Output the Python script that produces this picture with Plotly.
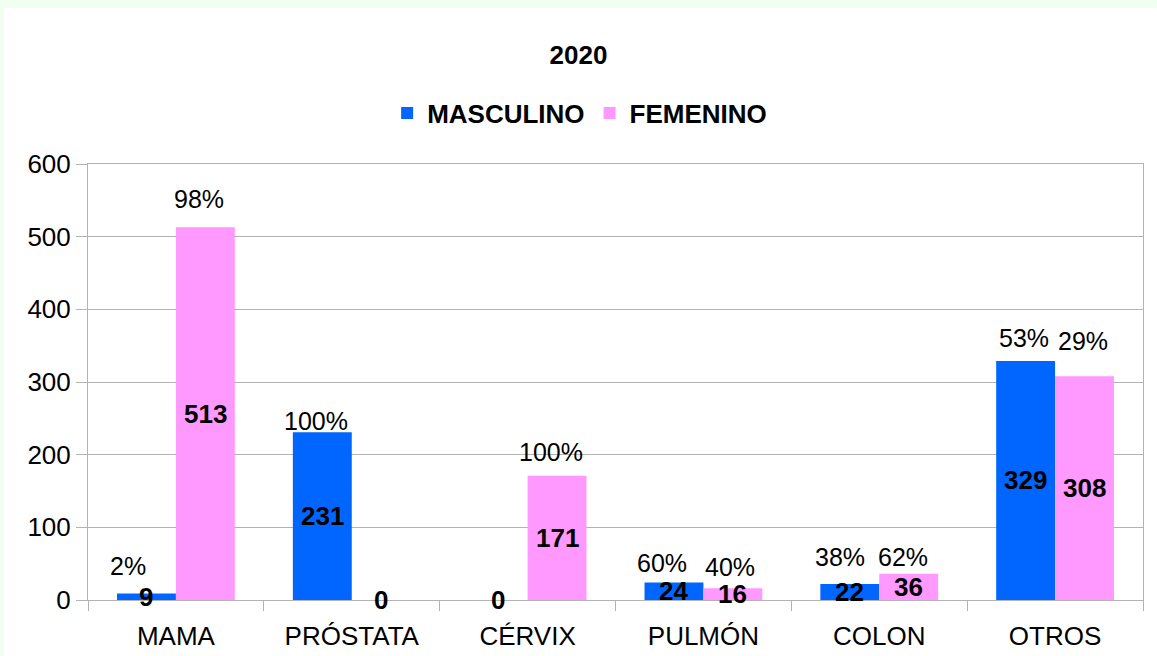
import plotly.graph_objects as go

categories = ["MAMA", "PRÓSTATA", "CÉRVIX", "PULMÓN", "COLON", "OTROS"]
masculino = [9, 231, 0, 24, 22, 329]
femenino = [513, 0, 171, 16, 36, 308]
pct_masculino = ["2%", "100%", "", "60%", "38%", "53%"]
pct_femenino = ["98%", "", "100%", "40%", "62%", "29%"]

# pixel offsets of the percentage labels relative to the bar tops
pct_yshift_m = [27, 11, 0, 20, 27, 23]
pct_yshift_f = [28, 0, 24, 21, 17, 35]
pct_xshift_m = [-18, -6, 0, -12, -10, -2]
pct_xshift_f = [-6, 0, -6, -3, -6, -2]

BLUE = "#0066ff"
PINK = "#ff99ff"
GRID = "#b3b3b3"
BG = "#f0fff0"
FONT = "Liberation Sans, Arial, sans-serif"
BARGAP = 0.33

fig = go.Figure()
fig.add_trace(go.Bar(name="<b>MASCULINO</b>", x=categories, y=masculino, marker_color=BLUE,
                     marker_line_width=0))
fig.add_trace(go.Bar(name="<b>FEMENINO</b>", x=categories, y=femenino, marker_color=PINK,
                     marker_line_width=0))

off = (1 - BARGAP) / 4
ann = []
for i, c in enumerate(categories):
    for sgn, vals, pcts, ys, xs in ((-1, masculino, pct_masculino, pct_yshift_m, pct_xshift_m),
                                    (1, femenino, pct_femenino, pct_yshift_f, pct_xshift_f)):
        v = vals[i]
        ann.append(dict(x=i + sgn * off, y=v / 2, xref="x", yref="y", text=f"<b>{v}</b>",
                        showarrow=False, font=dict(size=26, color="black", family=FONT),
                        xanchor="center", yanchor="middle"))
        if pcts[i]:
            ann.append(dict(x=i + sgn * off, y=v, xref="x", yref="y", text=pcts[i],
                            showarrow=False, font=dict(size=25, color="black", family=FONT),
                            xanchor="center", yanchor="middle", yshift=ys[i], xshift=xs[i]))

fig.update_layout(
    width=1157, height=656,
    margin=dict(l=88, r=14, t=164, b=56, autoexpand=False),
    paper_bgcolor=BG,
    plot_bgcolor="white",
    font=dict(family=FONT, color="black", size=26),
    barmode="group", bargap=BARGAP, bargroupgap=0,
    title=dict(text="<b>2020</b>", x=0.5, xref="container", xanchor="center",
               y=1 - 55 / 656, yanchor="middle", font=dict(size=26, family=FONT, color="black")),
    showlegend=True,
    legend=dict(orientation="h", x=0.466, xanchor="center", y=1.117, yanchor="middle",
                font=dict(size=26, family=FONT, color="black"), bgcolor="rgba(0,0,0,0)",
                itemwidth=30, traceorder="normal"),
    annotations=ann,
    shapes=[dict(type="rect", xref="paper", yref="paper", x0=-84 / 1055, x1=1.02,
                 y0=-0.2, y1=(600 - 8) / 436, fillcolor="white", line_width=0, layer="below")],
)
fig.update_xaxes(type="category", showgrid=False, showline=True, linecolor=GRID, linewidth=1,
                 mirror=True, ticks="outside", tickson="boundaries", ticklen=10,
                 tickcolor=GRID, ticklabelstandoff=13, automargin=False,
                 tickfont=dict(size=26, family=FONT, color="black"))
fig.update_yaxes(range=[0, 600], dtick=100, showgrid=True, gridcolor=GRID, gridwidth=1,
                 showline=True, linecolor=GRID, mirror=True, ticks="outside", ticklen=11,
                 tickcolor=GRID, zeroline=False, automargin=False,
                 tickfont=dict(size=26, family=FONT, color="black"))

fig.write_html("out.html", config={"displayModeBar": False},
               post_script="document.body.style.margin='0';document.body.style.background='%s';" % BG)
